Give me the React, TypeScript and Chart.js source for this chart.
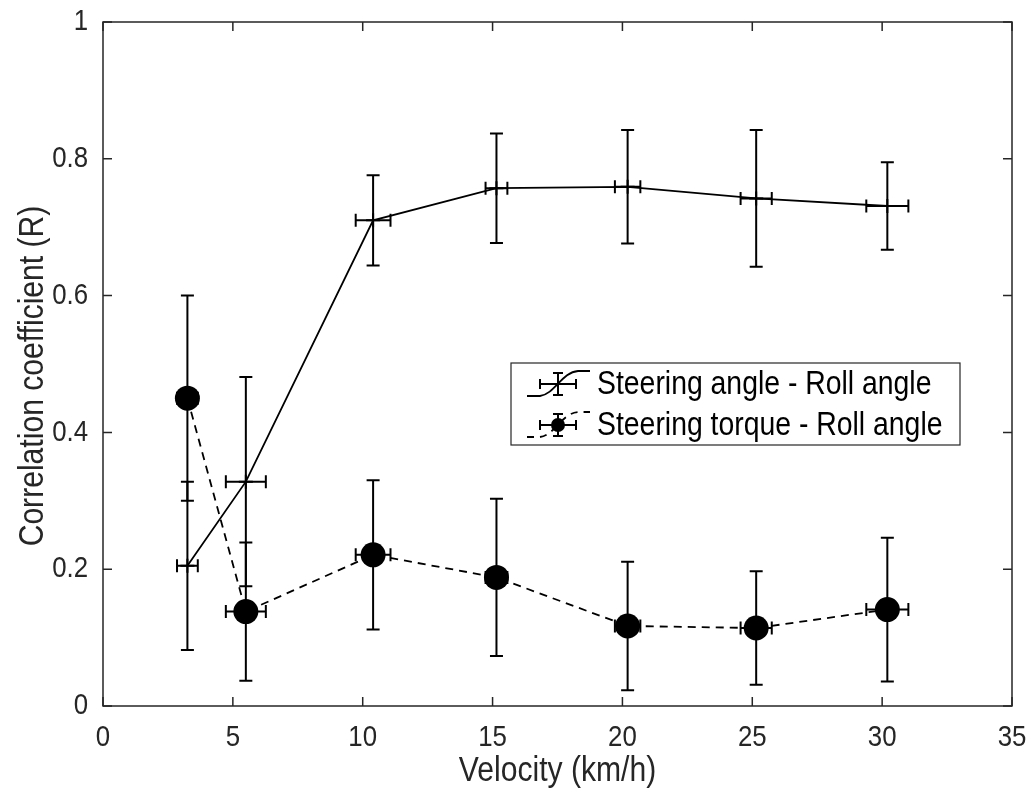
import React, { useEffect, useRef } from "react";
import { Chart, registerables } from "chart.js";

Chart.register(...registerables);

const velocity = [3.25, 5.5, 10.4, 15.15, 20.2, 25.15, 30.2];
const velocityErr = [0.4, 0.77, 0.67, 0.42, 0.49, 0.6, 0.81];
const steeringAngleR = [0.205, 0.328, 0.71, 0.757, 0.759, 0.742, 0.731];
const steeringAngleErr = [0.123, 0.153, 0.066, 0.08, 0.083, 0.1, 0.064];
const steeringTorqueR = [0.45, 0.138, 0.221, 0.188, 0.117, 0.114, 0.141];
const steeringTorqueErr = [0.15, 0.101, 0.109, 0.115, 0.094, 0.083, 0.105];
const xTicks = [0, 5, 10, 15, 20, 25, 30, 35];
const yTicks = [0, 0.2, 0.4, 0.6, 0.8, 1];
const xTickLabels = ["0", "5", "10", "15", "20", "25", "30", "35"];
const yTickLabels = ["0", "0.2", "0.4", "0.6", "0.8", "1"];
const xTitle = "Velocity (km/h)";
const yTitle = "Correlation coefficient (R)";
const legendLabels = ["Steering angle - Roll angle", "Steering torque - Roll angle"];

const AXIS = "#262626";
const FONT = "'Liberation Sans', Arial, sans-serif";
const NARROW = 0.86;

function drawText(ctx: CanvasRenderingContext2D, text: string, x: number, y: number, size: number, align: CanvasTextAlign, rot = 0, color = AXIS) {
  ctx.save();
  ctx.translate(x, y);
  if (rot) ctx.rotate(rot);
  ctx.scale(NARROW, 1);
  ctx.font = `${size}px ${FONT}`;
  ctx.fillStyle = color;
  ctx.textAlign = align;
  ctx.textBaseline = "middle";
  ctx.fillText(text, 0, 0);
  ctx.restore();
}

export default function App() {
  const ref = useRef<HTMLCanvasElement>(null);
  useEffect(() => {
    document.body.style.margin = "0";
    const canvas = ref.current!;
    const errorPlugin = {
      id: "errorBars",
      beforeDraw(chart: any) {
        const ctx = chart.ctx;
        ctx.save();
        ctx.fillStyle = "#fff";
        ctx.fillRect(0, 0, chart.width, chart.height);
        ctx.restore();
      },
      beforeDatasetsDraw(chart: any) {
        const ctx = chart.ctx;
        const xs = chart.scales.x;
        const ys = chart.scales.y;
        ctx.save();
        ctx.strokeStyle = "#000";
        ctx.lineWidth = 2;
        ctx.setLineDash([]);
        chart.data.datasets.forEach((ds: any) => {
          ds.data.forEach((p: any, i: number) => {
            const px = xs.getPixelForValue(p.x);
            const py = ys.getPixelForValue(p.y);
            const yT = ys.getPixelForValue(p.y + ds.yErr[i]);
            const yB = ys.getPixelForValue(p.y - ds.yErr[i]);
            const xL = xs.getPixelForValue(p.x - ds.xErr[i]);
            const xR = xs.getPixelForValue(p.x + ds.xErr[i]);
            const c = 6.5;
            ctx.beginPath();
            ctx.moveTo(px, yT); ctx.lineTo(px, yB);
            ctx.moveTo(px - c, yT); ctx.lineTo(px + c, yT);
            ctx.moveTo(px - c, yB); ctx.lineTo(px + c, yB);
            ctx.moveTo(xL, py); ctx.lineTo(xR, py);
            ctx.moveTo(xL, py - c); ctx.lineTo(xL, py + c);
            ctx.moveTo(xR, py - c); ctx.lineTo(xR, py + c);
            ctx.stroke();
          });
        });
        ctx.restore();
      },
      afterDraw(chart: any) {
        const ctx = chart.ctx;
        const a = chart.chartArea;
        const xs = chart.scales.x;
        const ys = chart.scales.y;
        ctx.save();
        ctx.strokeStyle = AXIS;
        ctx.lineWidth = 1.5;
        ctx.strokeRect(a.left, a.top, a.right - a.left, a.bottom - a.top);
        const t = 9;
        ctx.beginPath();
        xTicks.forEach((v) => {
          const px = xs.getPixelForValue(v);
          ctx.moveTo(px, a.bottom); ctx.lineTo(px, a.bottom - t);
          ctx.moveTo(px, a.top); ctx.lineTo(px, a.top + t);
        });
        yTicks.forEach((v) => {
          const py = ys.getPixelForValue(v);
          ctx.moveTo(a.left, py); ctx.lineTo(a.left + t, py);
          ctx.moveTo(a.right, py); ctx.lineTo(a.right - t, py);
        });
        ctx.stroke();

        xTicks.forEach((v, i) => drawText(ctx, xTickLabels[i], xs.getPixelForValue(v), a.bottom + 32, 30, "center"));
        yTicks.forEach((v, i) => drawText(ctx, yTickLabels[i], a.left - 15, ys.getPixelForValue(v), 30, "right"));
        drawText(ctx, xTitle, (a.left + a.right) / 2, a.bottom + 65, 35, "center");
        drawText(ctx, yTitle, 33, (a.top + a.bottom) / 2 + 12, 35, "center", -Math.PI / 2);

        // legend
        const L = 511, R = 960, T = 363, B = 445;
        ctx.fillStyle = "#fff";
        ctx.fillRect(L, T, R - L, B - T);
        ctx.strokeStyle = AXIS;
        ctx.lineWidth = 1.2;
        ctx.strokeRect(L, T, R - L, B - T);
        const cx = 558;
        const rows = [384, 425];
        ctx.strokeStyle = "#000";
        ctx.lineWidth = 1.8;
        ctx.beginPath();
        ctx.moveTo(527, rows[0] + 12);
        ctx.lineTo(540, rows[0] + 12);
        ctx.bezierCurveTo(555, rows[0] + 10, 562, rows[0] - 12, 578, rows[0] - 13);
        ctx.lineTo(590, rows[0] - 13);
        ctx.stroke();
        ctx.setLineDash([7, 6]);
        ctx.beginPath();
        ctx.moveTo(527, rows[1] + 12);
        ctx.lineTo(540, rows[1] + 12);
        ctx.bezierCurveTo(555, rows[1] + 10, 562, rows[1] - 12, 578, rows[1] - 13);
        ctx.lineTo(590, rows[1] - 13);
        ctx.stroke();
        ctx.setLineDash([]);
        rows.forEach((ry, k) => {
          const c = 5;
          ctx.strokeStyle = "#000";
          ctx.lineWidth = 2;
          ctx.beginPath();
          ctx.moveTo(cx, ry - 11); ctx.lineTo(cx, ry + 11);
          ctx.moveTo(cx - c, ry - 11); ctx.lineTo(cx + c, ry - 11);
          ctx.moveTo(cx - c, ry + 11); ctx.lineTo(cx + c, ry + 11);
          ctx.moveTo(cx - 18, ry); ctx.lineTo(cx + 18, ry);
          ctx.moveTo(cx - 18, ry - c); ctx.lineTo(cx - 18, ry + c);
          ctx.moveTo(cx + 18, ry - c); ctx.lineTo(cx + 18, ry + c);
          ctx.stroke();
          if (k === 1) {
            ctx.fillStyle = "#000";
            ctx.beginPath();
            ctx.arc(cx, ry, 7, 0, Math.PI * 2);
            ctx.fill();
          }
          drawText(ctx, legendLabels[k], 597, ry + 1, 33, "left", 0, "#000");
        });
        ctx.restore();
      },
    };

    const chart = new Chart(canvas, {
      type: "scatter",
      data: {
        datasets: [
          {
            label: legendLabels[0],
            data: velocity.map((v, i) => ({ x: v, y: steeringAngleR[i] })),
            showLine: true,
            borderColor: "#000",
            backgroundColor: "#000",
            borderWidth: 1.8,
            pointStyle: "cross",
            pointRadius: 7,
            pointBorderWidth: 2,
            yErr: steeringAngleErr,
            xErr: velocityErr,
          } as any,
          {
            label: legendLabels[1],
            data: velocity.map((v, i) => ({ x: v, y: steeringTorqueR[i] })),
            showLine: true,
            borderColor: "#000",
            backgroundColor: "#000",
            borderWidth: 1.8,
            borderDash: [8, 6],
            pointStyle: "circle",
            pointRadius: 12.5,
            pointBorderWidth: 0,
            yErr: steeringTorqueErr,
            xErr: velocityErr,
          } as any,
        ],
      },
      options: {
        responsive: false,
        animation: false,
        layout: { padding: { left: 0, right: 23, top: 22, bottom: 0 } },
        plugins: { legend: { display: false }, tooltip: { enabled: false } },
        scales: {
          x: {
            type: "linear",
            min: 0,
            max: 35,
            afterBuildTicks: (s: any) => { s.ticks = xTicks.map((v) => ({ value: v })); },
            ticks: { display: false },
            grid: { display: false, drawTicks: false },
            border: { display: false },
            title: { display: false },
            afterFit: (s: any) => { s.height = 90; },
          },
          y: {
            type: "linear",
            min: 0,
            max: 1,
            afterBuildTicks: (s: any) => { s.ticks = yTicks.map((v) => ({ value: v })); },
            ticks: { display: false },
            grid: { display: false, drawTicks: false },
            border: { display: false },
            title: { display: false },
            afterFit: (s: any) => { s.width = 103; },
          },
        },
      },
      plugins: [errorPlugin],
    });
    return () => chart.destroy();
  }, []);
  return (
    <div style={{ width: 1035, height: 796 }}>
      <canvas ref={ref} width={1035} height={796} />
    </div>
  );
}
